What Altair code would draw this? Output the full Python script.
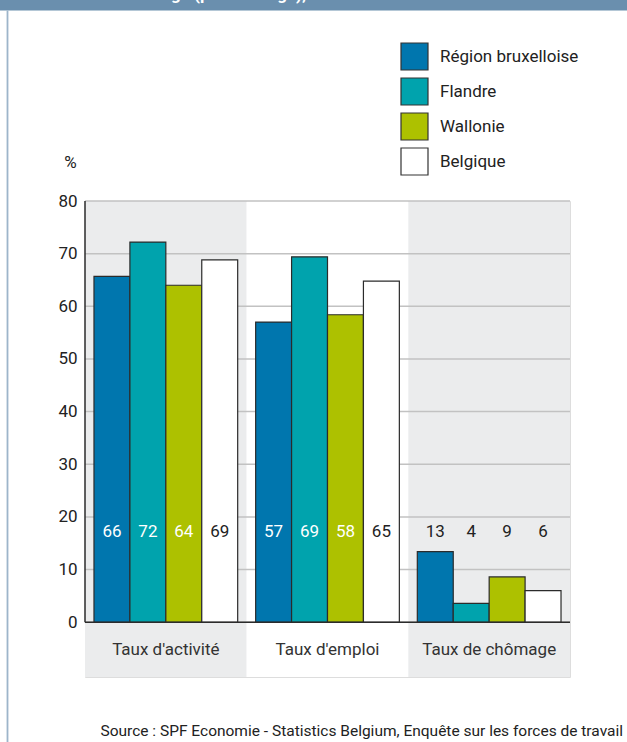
import altair as alt
import pandas as pd

FONT = "Roboto, Liberation Sans, sans-serif"
TEXT = "#222222"
FS = 17

# Indicators and regions
groups = ["Taux d'activité", "Taux d'emploi", "Taux de chômage"]
regions = ["Région bruxelloise", "Flandre", "Wallonie", "Belgique"]

# Rates (%) per region, one list per indicator
activite = [65.7, 72.2, 64.0, 68.8]
emploi = [57.0, 69.4, 58.4, 64.8]
chomage = [13.4, 3.6, 8.6, 6.0]

y_ticks = [0, 10, 20, 30, 40, 50, 60, 70, 80]
source = "Source : SPF Economie - Statistics Belgium, Enquête sur les forces de travail"
header = "et de chômage (pourcentage), 2011"

colors = ["#0076ae", "#00a3ad", "#adc100", "#ffffff"]

rows = []
for g, vals in zip(groups, [activite, emploi, chomage]):
    for r, v in zip(regions, vals):
        rows.append({"group": g, "region": r, "value": v})
df = pd.DataFrame(rows)
groups_df = pd.DataFrame({"group": groups})
ticks_df = pd.DataFrame({"tick": y_ticks})

W, H = 485, 476
LABEL_Y = 17.1
Y_MIN = -10.4

xscale = alt.Scale(domain=groups, paddingInner=0, paddingOuter=0)
x_enc = alt.X("group:N", scale=xscale, axis=None, sort=groups)
xoff = alt.XOffset("region:N", scale=alt.Scale(domain=regions, paddingInner=0, paddingOuter=0.25),
                   sort=regions)
yscale = alt.Scale(domain=[Y_MIN, 80], nice=False, zero=False)

yaxis = alt.Axis(
    values=y_ticks, grid=False, ticks=False, domain=False,
    labelFont=FONT, labelFontSize=FS, labelColor=TEXT, labelPadding=8,
    title="%", titleAngle=0, titleX=-15, titleY=-39, titleAlign="center",
    titleBaseline="middle", titleFont=FONT, titleFontSize=FS,
    titleFontWeight="normal", titleColor=TEXT,
)

base = alt.Chart(df)
first = alt.datum.group == groups[0]

# Decorative header band, left border and source line
band = alt.Chart(groups_df).mark_rect(color="#6a8fae").encode(
    x=alt.value(-85), x2=alt.value(542), y=alt.value(-201), y2=alt.value(-190.5)
).transform_filter(first)
band_text = alt.Chart(groups_df).mark_text(
    text=header, font=FONT, fontSize=17, fontWeight="bold", color="white",
    align="left", baseline="alphabetic"
).encode(x=alt.value(-8), y=alt.value(-201.5)).transform_filter(first)
border = alt.Chart(groups_df).mark_rule(color="#9db5ca", strokeWidth=1.8).encode(
    x=alt.value(-77.5), y=alt.value(-190.5), y2=alt.value(541)
).transform_filter(first)
source_text = alt.Chart(groups_df).mark_text(
    text=source, font=FONT, fontSize=15.5, color=TEXT, align="right", baseline="alphabetic"
).encode(x=alt.value(538), y=alt.value(534.5)).transform_filter(first)

# Alternating panel backgrounds
panels = alt.Chart(groups_df).mark_rect().encode(
    x=x_enc,
    y=alt.YDatum(80, scale=yscale, axis=yaxis, title="%"),
    y2=alt.datum(Y_MIN),
    fill=alt.condition(alt.datum.group == groups[1], alt.value("#ffffff"), alt.value("#ebeced")),
)

grid = alt.Chart(ticks_df).mark_rule(color="#c2c2c2", strokeWidth=1.5).encode(
    y=alt.Y("tick:Q", scale=yscale, axis=yaxis, title="%")
)

bars = base.mark_bar(stroke="#2b2b2b", strokeWidth=1.2).encode(
    x=x_enc,
    xOffset=xoff,
    y=alt.Y("value:Q", scale=yscale, axis=yaxis, stack=None, title="%"),
    fill=alt.Fill(
        "region:N",
        scale=alt.Scale(domain=regions, range=colors),
        sort=regions,
        legend=alt.Legend(
            orient="none", legendX=315, legendY=-159, title=None,
            symbolType="square", symbolSize=729, symbolStrokeColor="#333333",
            symbolStrokeWidth=1.2, symbolOpacity=1,
            labelFont=FONT, labelFontSize=FS, labelColor=TEXT,
            labelOffset=11, rowPadding=2, padding=0, labelLimit=300,
        ),
    ),
)

x_axis_line = alt.Chart(groups_df).mark_rule(color="#2b2b2b", strokeWidth=1.5).encode(
    y=alt.YDatum(0, scale=yscale, axis=yaxis, title="%")
).transform_filter(first)

y_axis_line = alt.Chart(groups_df).mark_rule(color="#2b2b2b", strokeWidth=1.5).encode(
    x=alt.value(0), y=alt.YDatum(0, scale=yscale, axis=yaxis, title="%"), y2=alt.datum(80)
).transform_filter(first)

values_text = base.mark_text(font=FONT, fontSize=FS, baseline="middle").encode(
    x=x_enc,
    xOffset=xoff,
    y=alt.YDatum(LABEL_Y, scale=yscale, axis=yaxis, title="%"),
    text=alt.Text("value:Q", format=".0f"),
    color=alt.condition(
        (alt.datum.region != "Belgique") & (alt.datum.value > LABEL_Y + 3),
        alt.value("#ffffff"), alt.value(TEXT),
    ),
)

cat_text = alt.Chart(groups_df).mark_text(
    font=FONT, fontSize=FS, baseline="middle", color="#333333"
).encode(
    x=x_enc,
    y=alt.YDatum(-5.3, scale=yscale, axis=yaxis, title="%"),
    text="group:N",
)

chart = alt.layer(
    band, band_text, border, panels, grid, bars, x_axis_line, y_axis_line,
    values_text, cat_text, source_text
).properties(
    width=W, height=H,
    padding={"left": 85, "top": 201, "right": 57, "bottom": 65},
    autosize=alt.AutoSizeParams(type="none"),
).configure_view(stroke=None).configure(background="white")

chart.save("out.html", embed_options={"renderer": "svg", "actions": False})
